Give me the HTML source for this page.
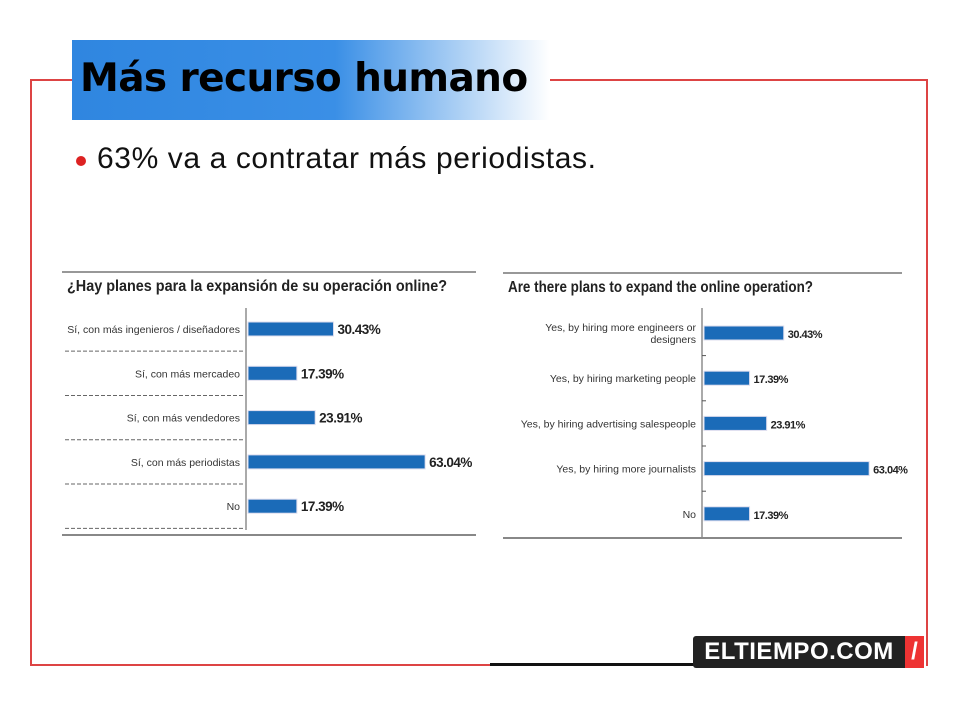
<!DOCTYPE html>
<html><head><meta charset="utf-8"><style>
body{margin:0;width:960px;height:720px;background:#fff;overflow:hidden;font-family:"Liberation Sans",sans-serif;position:relative}
.a{position:absolute}
</style></head><body>
<div class="a" style="left:30px;top:79px;width:42px;height:2px;background:#d44"></div>
<div class="a" style="left:550px;top:79px;width:378px;height:2px;background:#d44"></div>
<div class="a" style="left:30px;top:79px;width:2px;height:587px;background:#d44"></div>
<div class="a" style="left:926px;top:79px;width:2px;height:587px;background:#d44"></div>
<div class="a" style="left:30px;top:664px;width:460px;height:2px;background:#d44"></div>
<div class="a" style="left:490px;top:663px;width:205px;height:3px;background:#111"></div>
<div class="a" style="left:72px;top:40px;width:478px;height:80px;background:linear-gradient(90deg,#2f86e0 0%,#3a8fe6 55%,#fff 100%)"></div>
<div class="a" style="left:80px;top:56px;font-size:39px;font-weight:bold;color:#000;font-family:'DejaVu Sans',sans-serif;letter-spacing:-0.6px">Más recurso humano</div>
<div class="a" style="left:76px;top:156px;width:10px;height:10px;border-radius:50%;background:#d22"></div>
<div class="a" style="left:97px;top:142px;font-size:30px;color:#111;letter-spacing:0.6px">63% va a contratar más periodistas.</div>
<div class="a" style="left:693px;top:636px;width:212px;height:32px;background:#222;border-radius:3px 0 0 3px;color:#fff;font-weight:bold;font-size:24px;line-height:32px;text-align:center;letter-spacing:0.5px">ELTIEMPO.COM</div>
<div class="a" style="left:905px;top:636px;width:19px;height:32px;background:#e33;color:#fff;font-weight:bold;font-size:24px;line-height:32px;text-align:center">/</div>
<svg class="a" style="left:0;top:0" width="960" height="720" id="svg"></svg>
<script>
const labelsEs=["Sí, con más ingenieros / diseñadores","Sí, con más mercadeo","Sí, con más vendedores","Sí, con más periodistas","No"];
const labelsEn=[["Yes, by hiring more engineers or","designers"],["Yes, by hiring marketing people"],["Yes, by hiring advertising salespeople"],["Yes, by hiring more journalists"],["No"]];
const valuesEs=[30.43,17.39,23.91,63.04,17.39];
const valuesEn=[30.43,17.39,23.91,63.04,17.39];
const svg=document.getElementById('svg');const NS='http://www.w3.org/2000/svg';
function mk(t,a,txt){const e=document.createElementNS(NS,t);for(const k in a)e.setAttribute(k,a[k]);if(txt!=null)e.textContent=txt;svg.appendChild(e);return e;}
function chart(c){
 let e=mk('line',{x1:c.x0,x2:c.x1,y1:c.top,y2:c.top,stroke:'#777','stroke-width':1.5});
 
 e=mk('text',{x:c.x0+5,y:c.top+19,'font-size':16,'font-weight':'bold',fill:'#222',textLength:c.tl,lengthAdjust:'spacingAndGlyphs'},c.title);
 
 e=mk('line',{x1:c.ax,x2:c.ax,y1:c.ay0,y2:c.ay1,stroke:'#555','stroke-width':1});
 
 e=mk('line',{x1:c.x0,x2:c.x1,y1:c.bot,y2:c.bot,stroke:'#888','stroke-width':2});
 
 const sx=v=>v*c.scale, yc=i=>c.y0+i*c.step;
 c.vals.forEach((v,i)=>{
  const y=yc(i);
  let r=mk('rect',{x:c.ax+2,y:y-7,width:sx(v),height:14,fill:'#1b6bb8',stroke:'#dde',"stroke-width":1});
  
  let t=mk('text',{x:c.ax+6+sx(v),y:y+5,'font-size':c.vs,'font-weight':'bold',fill:'#222','letter-spacing':'-0.5'},v.toFixed(2)+'%');
  
  const L=Array.isArray(c.labels[i])?c.labels[i]:[c.labels[i]];
  L.forEach((s,j)=>{let l=mk('text',{x:c.ax-6,y:y+4+(j-(L.length-1)/2)*12,'font-size':10.5,fill:'#333','text-anchor':'end'},s);
   });
  if(c.dash){let d=mk('line',{x1:65,x2:c.ax-1,y1:y+c.step/2,y2:y+c.step/2,stroke:'#666','stroke-dasharray':'4,2'});
   }
  else if(i<c.vals.length-1){let d=mk('line',{x1:c.ax,x2:c.ax+4,y1:y+c.step/2,y2:y+c.step/2,stroke:'#555'});
   }
 });
}
chart({id:'es-chart',x0:62,x1:476,top:272,bot:535,title:'¿Hay planes para la expansión de su operación online?',tl:380,ax:246,ay0:308,ay1:530,y0:329,step:44.3,scale:2.81,vals:valuesEs,labels:labelsEs,dash:true,vs:13.5});
chart({id:'en-chart',x0:503,x1:902,top:273,bot:538,title:'Are there plans to expand the online operation?',tl:305,ax:702,ay0:308,ay1:538,y0:333,step:45.2,scale:2.62,vals:valuesEn,labels:labelsEn,dash:false,vs:11});
</script>
</body></html>
